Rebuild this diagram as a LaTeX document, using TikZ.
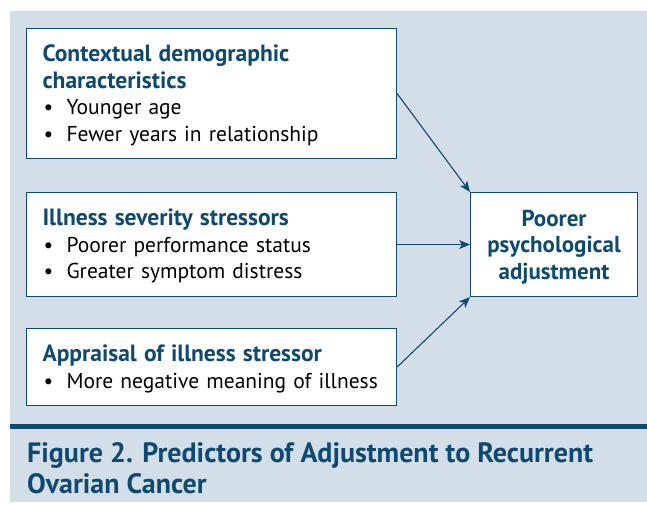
\documentclass[tikz,border=0pt]{standalone}
\usepackage{fontspec}
\setmainfont{PT Sans}
\usepackage{tikz}
\usetikzlibrary{positioning,arrows.meta}

\definecolor{navy}{HTML}{0E4A70}
\definecolor{panel}{HTML}{D3DEE9}
\newcommand{\itm}{\hspace*{1pt}\makebox[23pt][l]{\textbullet}}
\newcommand{\hd}[1]{{\fontsize{23.5}{26.5}\selectfont\bfseries\color{navy}#1}}

\begin{document}
\begin{tikzpicture}[x=1pt,y=-1pt]
\tikzstyle{every node}+=[inner sep=0pt]
\tikzstyle{factor}=[draw=navy, line width=1.1pt, fill=white, anchor=north west, text width=338pt, align=left, minimum width=370pt, font=\fontsize{21.5}{26.5}\selectfont]
\tikzstyle{link}=[navy, line width=1.1pt, -{Stealth[length=11pt,width=9pt,inset=3pt]}]
\useasboundingbox (0,0) rectangle (647,505);
\fill [panel] (10,11) rectangle (647,502);
\fill [navy] (10,424) rectangle (647,429);
\node [factor, minimum height=130pt, text depth=80pt] (demo) at (26,28) {\hd{Contextual demographic\\characteristics}\\\itm Younger age\\\itm Fewer years in relationship};
\node [factor, minimum height=104pt, text depth=54pt] (sev) at (26,192) {\hd{Illness severity stressors}\\\itm Poorer performance status\\\itm Greater symptom distress};
\node [factor, minimum height=77pt, text depth=27.5pt] (appr) at (26,328) {\hd{Appraisal of illness stressor}\\\itm More negative meaning of illness};
\node [draw=navy, line width=1.1pt, fill=white, anchor=north west, minimum width=167pt, minimum height=104pt, text depth=-4pt, align=center, font=\fontsize{23}{26.5}\selectfont\bfseries, text=navy] (adj) at (470,192) {Poorer\\psychological\\adjustment};
\draw [link] (demo.east) -- (adj.north west);
\draw [link] (sev.east) -- (adj.west);
\draw [link] (appr.east) -- (adj.south west);
\node [anchor=north west, align=left, text=navy, font=\fontsize{28}{31}\selectfont\bfseries] (cap) at (27,442) {Figure 2. Predictors of Adjustment to Recurrent\\Ovarian Cancer};
\end{tikzpicture}
\end{document}
